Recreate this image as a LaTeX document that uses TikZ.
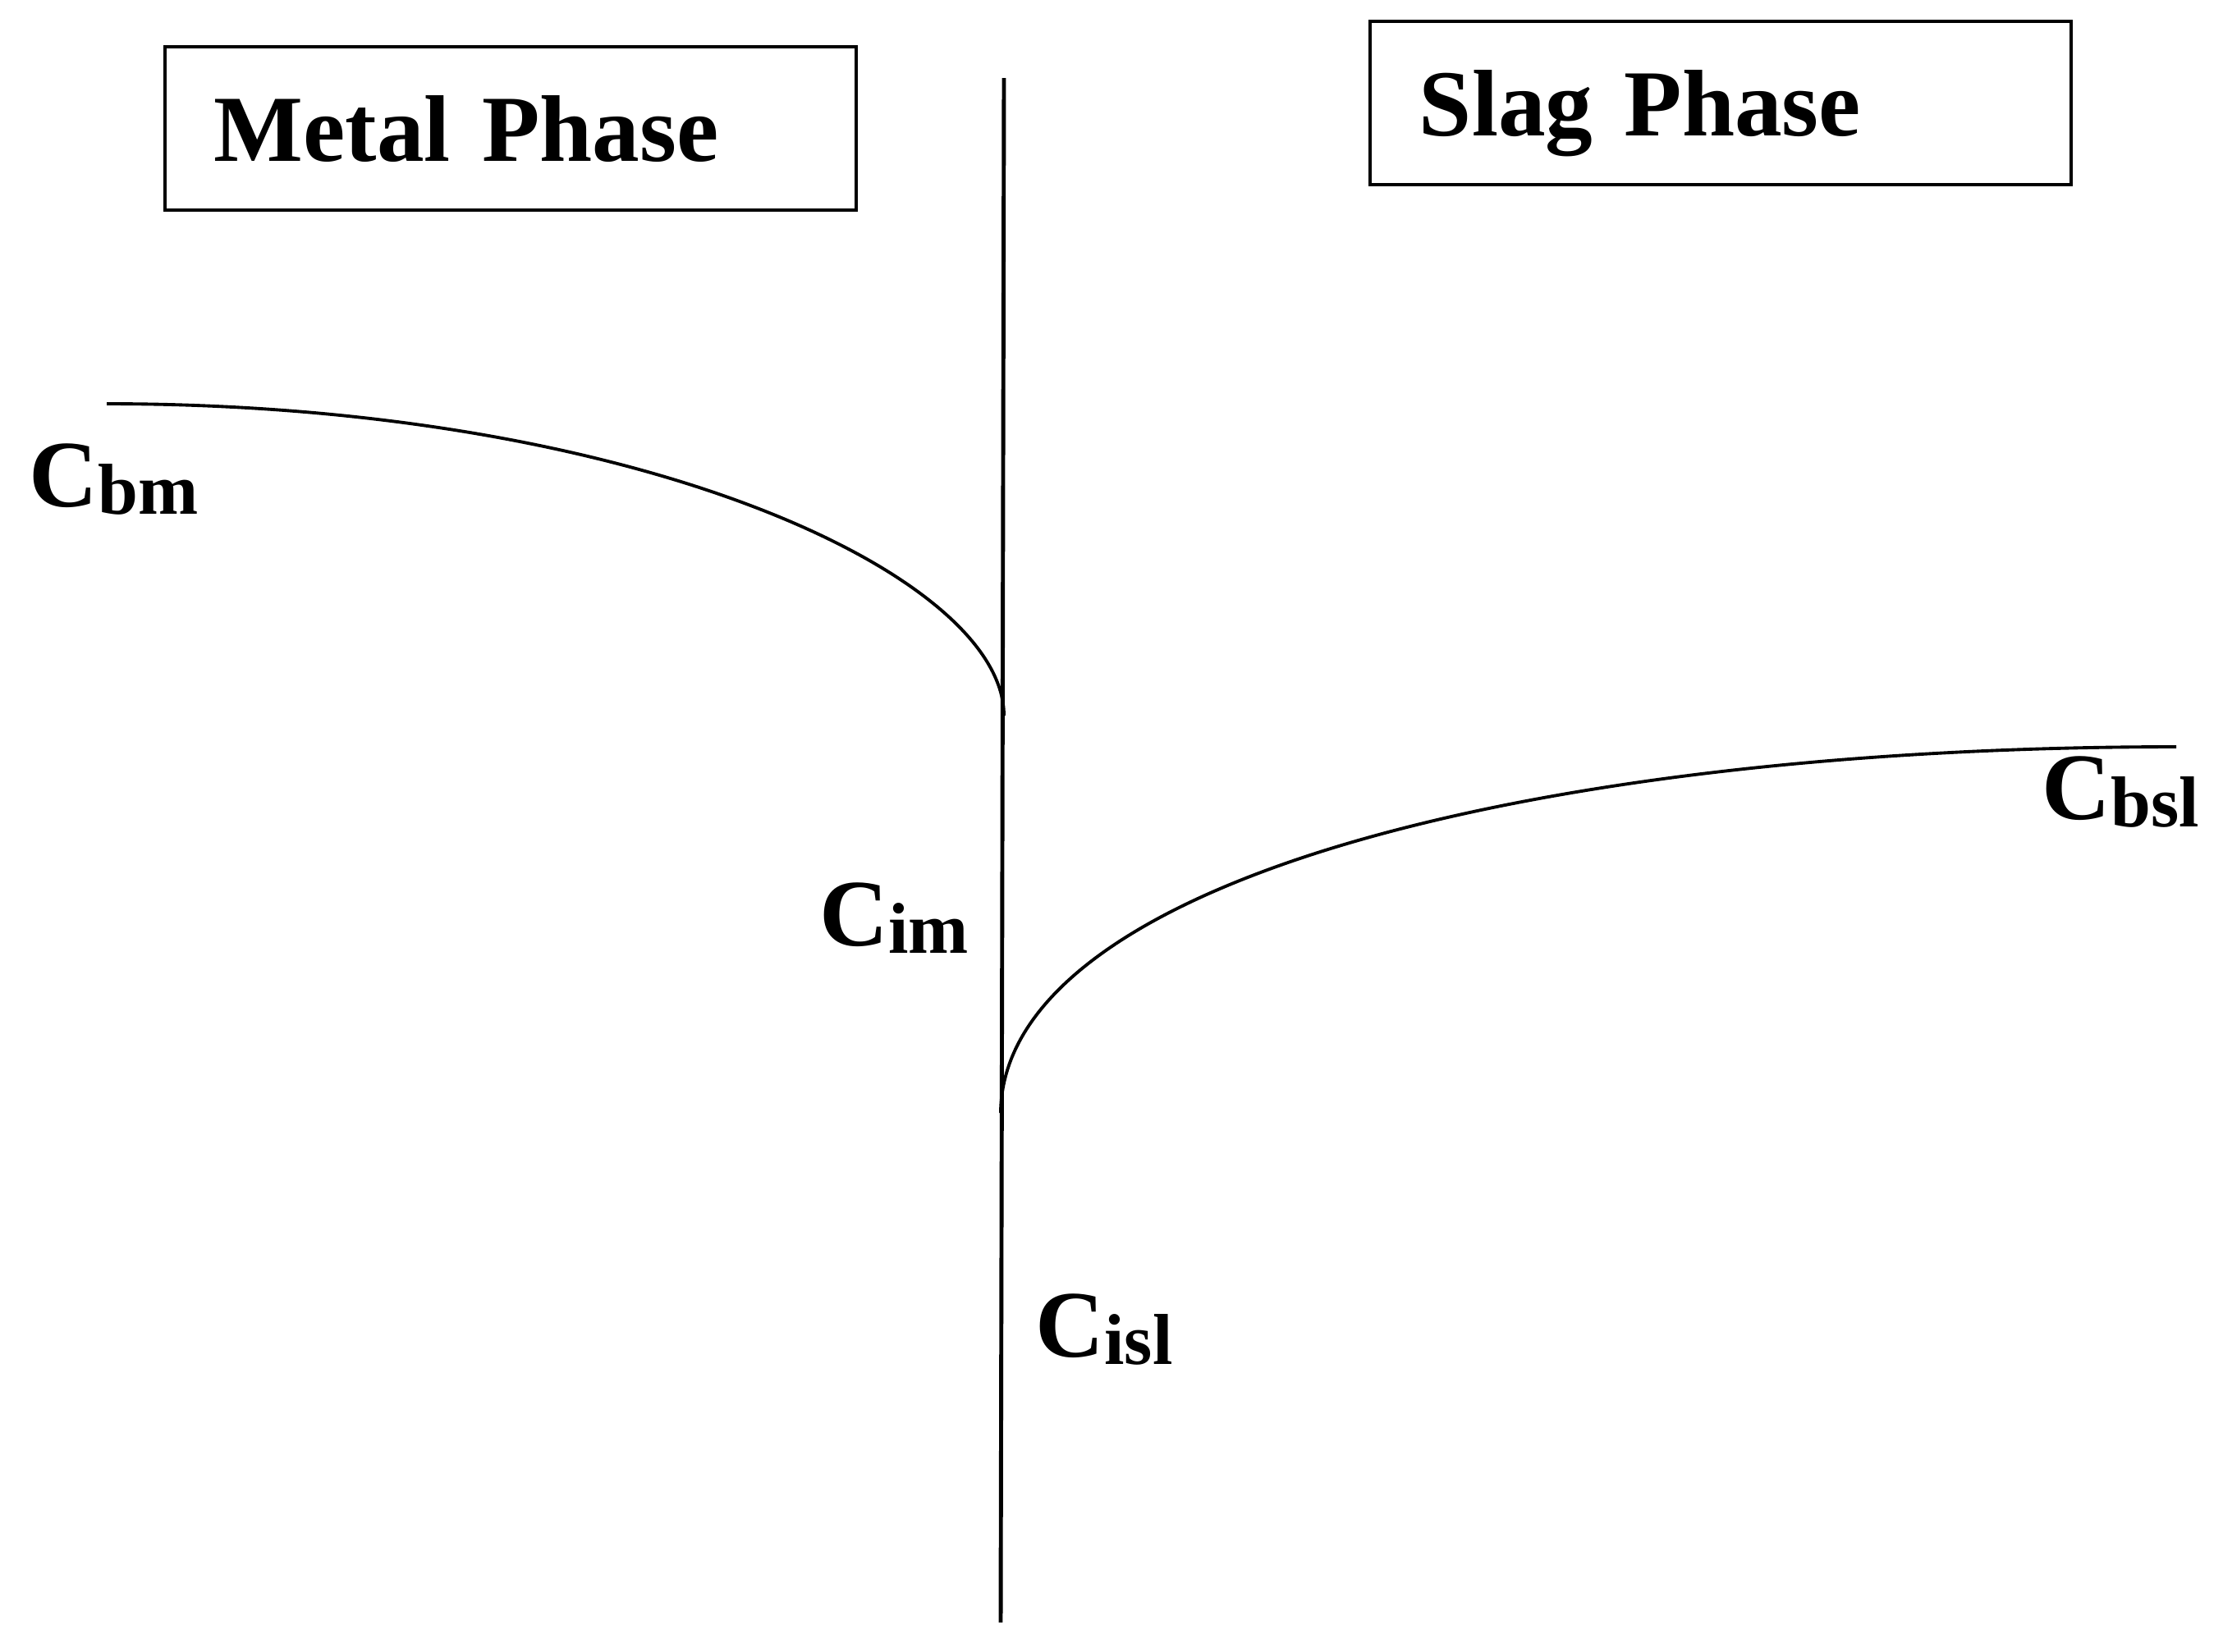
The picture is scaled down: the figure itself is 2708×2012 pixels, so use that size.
\documentclass[tikz,border=0pt]{standalone}
\usepackage{fontspec}
\setmainfont{Liberation Serif}
\usepackage{tikz}
\usetikzlibrary{positioning}
\newcommand{\conc}[1]{C\raisebox{-2.6pt}{\fontsize{25}{27}\selectfont #1}}

\begin{document}
\begin{tikzpicture}[
  x=0.1mm, y=-0.1mm,
  phasebox/.style={rectangle, draw=black, line width=1.1pt, anchor=north west, text width=72.6mm, inner xsep=6mm, minimum height=19.9mm, text depth=0pt, align=left, font=\fontsize{32.8}{40}\selectfont\bfseries},
  conclabel/.style={anchor=base west, inner sep=0pt, font=\fontsize{33}{40}\selectfont\bfseries},
  profile/.style={line width=1.1pt, black}
]
\useasboundingbox (0,0) rectangle (2708,2012);

% Phase boxes
\node (metal) [phasebox, text width=72.2mm] at (199,55) {Metal Phase};
\node (slag) [phasebox, text width=73.4mm] at (1667,24) {Slag Phase};

% Interface
\coordinate (itop) at (1223,95);
\coordinate (ibot) at (1219,1977);
\draw [line width=1.4pt] (itop) -- (ibot);

% Concentration profiles
\coordinate (bm) at (130,492);
\coordinate (im) at (1223,872);
\coordinate (isl) at (1219,1356);
\coordinate (bsl) at (2651,910);
\draw [profile] (bm) .. controls (780,492) and (1223,702) .. (im);
\draw [profile] (isl) .. controls (1221,1080) and (1851,910) .. (bsl);

% Labels
\node (cbm) [conclabel] at (35,617) {\conc{bm}};
\node (cim) [conclabel] at (998,1152) {\conc{im}};
\node (cisl) [conclabel] at (1261,1653) {\conc{isl}};
\node (cbsl) [conclabel] at (2487,998) {\conc{bsl}};

\end{tikzpicture}
\end{document}
